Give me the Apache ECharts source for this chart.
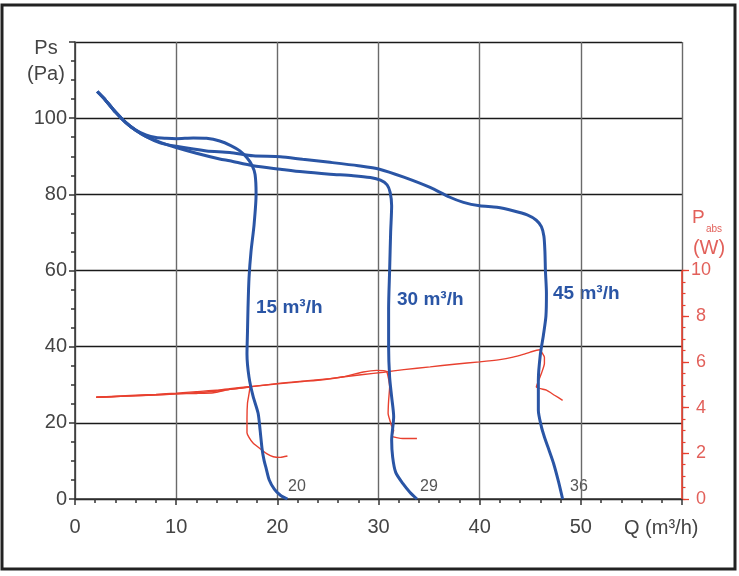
<!DOCTYPE html>
<html>
<head>
<meta charset="utf-8">
<script src="https://cdn.jsdelivr.net/npm/echarts@6/dist/echarts.min.js"></script>
<style>
  html, body { margin: 0; padding: 0; background: #fff; }
  #main { width: 739px; height: 576px; }
</style>
</head>
<body>
<div id="main"></div>
<script>
// Ps (Pa) against Q (m3/h), one curve per setting
var curve15 = [[2.2,107],[3,104.8],[4,101.6],[5,98.9],[6,96.9],[7,95.6],[8,94.9],[9,94.7],[10,94.6],[11.7,94.8],[13,94.7],[14.3,94.0],[15.4,92.8],[16.3,91.4],[17.0,89.6],[17.5,87.6],[17.8,85.2],[17.9,80],[17.7,72],[17.4,65],[17.2,58],[17.1,50],[17.05,44],[17.0,38],[17.2,32],[17.6,27],[18.1,22.5],[18.3,18],[18.5,13],[18.7,10],[18.9,8],[19.2,5],[19.7,2.6],[20.3,1.0],[21.0,0]];
var curve30 = [[2.2,107],[3,104.8],[4,101.6],[5,98.9],[6,96.8],[7,95.2],[8.5,93.6],[10,92.3],[12,90.8],[14.3,89.3],[15.3,88.8],[17.6,87.5],[20.3,86.6],[22.5,85.9],[25.2,85.3],[27.5,84.9],[29.2,84.4],[30.2,83.7],[30.85,82.5],[31.15,80.5],[31.3,77],[31.2,70],[31.1,60],[31.0,50],[31.0,40],[31.1,32],[31.3,26.8],[31.5,21.6],[31.3,15.5],[31.4,11],[31.7,7],[32.4,4.1],[33.1,1.8],[33.8,0]];
var curve45 = [[2.2,107],[3,104.8],[4,101.6],[5,98.9],[6,96.8],[7,95.2],[8.4,93.5],[10,92.6],[13,91.4],[15.3,91.0],[17.6,90.1],[20.3,89.9],[22.5,89.2],[25.2,88.4],[28,87.5],[30.1,86.6],[32.5,84.5],[35.1,81.8],[37,79.3],[38.4,77.9],[40,77.0],[41.7,76.6],[43.3,75.7],[44.7,74.6],[45.6,73.2],[46.1,71.5],[46.35,69],[46.45,65],[46.5,60],[46.6,54],[46.55,48],[46.3,43],[46.0,38],[45.8,31.2],[45.8,23.3],[46.1,19],[46.4,16.3],[46.9,12.5],[47.3,9.4],[47.8,4.5],[48.2,0]];

// absorbed power P_abs (W), right axis
var power15 = [[2.1,4.45],[5,4.5],[8,4.56],[10,4.6],[12,4.62],[13.7,4.65],[15.3,4.8],[16.5,4.86],[17.3,4.9],[17.2,4.6],[17.05,4.2],[17.0,3.5],[17.0,2.9],[17.2,2.7],[17.6,2.45],[18.3,2.2],[18.9,2.0],[19.6,1.85],[20.3,1.82],[21.0,1.88]];
var power30 = [[2.1,4.45],[5,4.52],[8,4.58],[10,4.63],[12,4.7],[14,4.76],[15.3,4.83],[17.5,4.93],[20.3,5.05],[22.5,5.14],[24.5,5.22],[26.5,5.35],[28.5,5.56],[29.8,5.63],[30.8,5.58],[31.1,4.9],[31.0,4.3],[30.95,3.74],[31.3,3.2],[31.5,3.0],[31.3,2.75],[32.4,2.65],[33.8,2.65]];
var power45 = [[2.1,4.45],[5,4.5],[8,4.55],[10,4.6],[13,4.68],[15.3,4.8],[17.5,4.92],[20.3,5.07],[25.2,5.27],[28.5,5.45],[30.5,5.55],[32.5,5.66],[35.1,5.78],[37.5,5.9],[40,6.0],[42,6.1],[43.3,6.21],[44.3,6.33],[45.0,6.43],[45.9,6.53],[46.4,6.2],[46.4,5.93],[46.1,5.49],[45.6,4.9],[46.6,4.76],[47.4,4.54],[48.2,4.32]];

var curveNames = ['15 m³/h', '30 m³/h', '45 m³/h'];
var endLabels = ['20', '29', '36'];
var powerLabelTicks = [0, 2, 4, 6, 8, 10];
var powerMinorTicks = [];
for (var i = 0; i <= 20; i++) powerMinorTicks.push(i * 0.5);

var blue = '#2a55a5';
var red = '#e8402f';
var redText = '#e2605a';
var font = 'Liberation Sans, Arial, sans-serif';

var myChart = echarts.init(document.getElementById('main'));

function blueLine(data) {
    return {
        type: 'line', xAxisIndex: 0, yAxisIndex: 0,
        data: data, showSymbol: false, symbol: 'none',
        smooth: 0.25, z: 5,
        lineStyle: { color: blue, width: 3 }
    };
}
function redLine(data) {
    return {
        type: 'line', xAxisIndex: 0, yAxisIndex: 1,
        data: data, showSymbol: false, symbol: 'none',
        smooth: 0.15, z: 4,
        lineStyle: { color: red, width: 1.4 }
    };
}

var series = [
    blueLine(curve15), blueLine(curve30), blueLine(curve45),
    redLine(power15), redLine(power30), redLine(power45)
];
// red axis line of the P_abs scale (0..10 W only)
series.push({
    type: 'line', xAxisIndex: 0, yAxisIndex: 1, data: [], z: 6,
    markLine: {
        silent: true, symbol: ['none', 'none'], label: { show: false },
        lineStyle: { color: red, width: 1.6, type: 'solid' },
        data: [[{ coord: [60, 0] }, { coord: [60, powerLabelTicks[powerLabelTicks.length - 1]] }]]
    }
});

myChart.setOption({
    animation: false,
    backgroundColor: '#fff',
    textStyle: { fontFamily: font },
    grid: { left: 75, right: 57, top: 42, bottom: 77, containLabel: false, outerBoundsMode: 'none' },
    xAxis: {
        type: 'value', min: 0, max: 60, interval: 10,
        axisLine: { show: true, lineStyle: { color: '#333', width: 1.5 } },
        axisTick: { show: true, length: 6, lineStyle: { color: '#333', width: 1.5 } },
        minorTick: { show: true, splitNumber: 5, length: 4, lineStyle: { color: '#333', width: 1.5 } },
        axisLabel: {
            margin: 18, fontSize: 20, color: '#444', fontFamily: font,
            formatter: function (v) { return v >= 60 ? '' : String(v); }
        },
        splitLine: { show: true, lineStyle: { color: '#6a6a6a', width: 1.4 } }
    },
    yAxis: [{
        type: 'value', min: 0, max: 120, interval: 20,
        axisLine: { show: true, lineStyle: { color: '#333', width: 1.5 } },
        axisTick: { show: true, length: 6, lineStyle: { color: '#333', width: 1.5 } },
        minorTick: { show: true, splitNumber: 4, length: 4, lineStyle: { color: '#333', width: 1.5 } },
        axisLabel: {
            margin: 8, fontSize: 20, color: '#444', fontFamily: font,
            formatter: function (v) { return v > 100 ? '' : String(v); }
        },
        splitLine: { show: true, lineStyle: { color: '#1a1a1a', width: 1.4 } }
    }, {
        type: 'value', min: 0, max: 20, interval: 2, position: 'right',
        axisLine: { show: false },
        axisTick: { show: true, length: 7, customValues: powerLabelTicks, lineStyle: { color: red, width: 1.3 } },
        axisLabel: { show: true, margin: 19, align: 'center', fontSize: 18, color: redText, fontFamily: font, customValues: powerLabelTicks },
        splitLine: { show: false }
    }, {
        type: 'value', min: 0, max: 20, interval: 2, position: 'right',
        axisLine: { show: false },
        axisTick: { show: true, length: 3.5, customValues: powerMinorTicks, lineStyle: { color: red, width: 1.2 } },
        axisLabel: { show: false },
        splitLine: { show: false }
    }],
    graphic: [
        { type: 'rect', shape: { x: 2, y: 5, width: 733, height: 564 }, style: { fill: 'none', stroke: '#222', lineWidth: 3 }, z: 100 },
        { type: 'text', x: 46, y: 38, style: { text: 'Ps', font: '20px ' + font, fill: '#444', textAlign: 'center' } },
        { type: 'text', x: 46, y: 64, style: { text: '(Pa)', font: '20px ' + font, fill: '#444', textAlign: 'center' } },
        { type: 'text', x: 692, y: 208, style: { text: 'P', font: '19px ' + font, fill: redText } },
        { type: 'text', x: 706, y: 224, style: { text: 'abs', font: '10px ' + font, fill: redText } },
        { type: 'text', x: 709, y: 238, style: { text: '(W)', font: '20px ' + font, fill: redText, textAlign: 'center' } },
        { type: 'text', x: 624, y: 518, style: { text: 'Q (m³/h)', font: '20px ' + font, fill: '#444' } },
        { type: 'text', x: 256, y: 298, style: { text: curveNames[0], font: 'bold 19px ' + font, fill: blue } },
        { type: 'text', x: 397, y: 290, style: { text: curveNames[1], font: 'bold 19px ' + font, fill: blue } },
        { type: 'text', x: 553, y: 284, style: { text: curveNames[2], font: 'bold 19px ' + font, fill: blue } },
        { type: 'text', x: 288, y: 479, style: { text: endLabels[0], font: '16px ' + font, fill: '#555' } },
        { type: 'text', x: 420, y: 479, style: { text: endLabels[1], font: '16px ' + font, fill: '#555' } },
        { type: 'text', x: 570, y: 479, style: { text: endLabels[2], font: '16px ' + font, fill: '#555' } }
    ],
    series: series
});
</script>
</body>
</html>
